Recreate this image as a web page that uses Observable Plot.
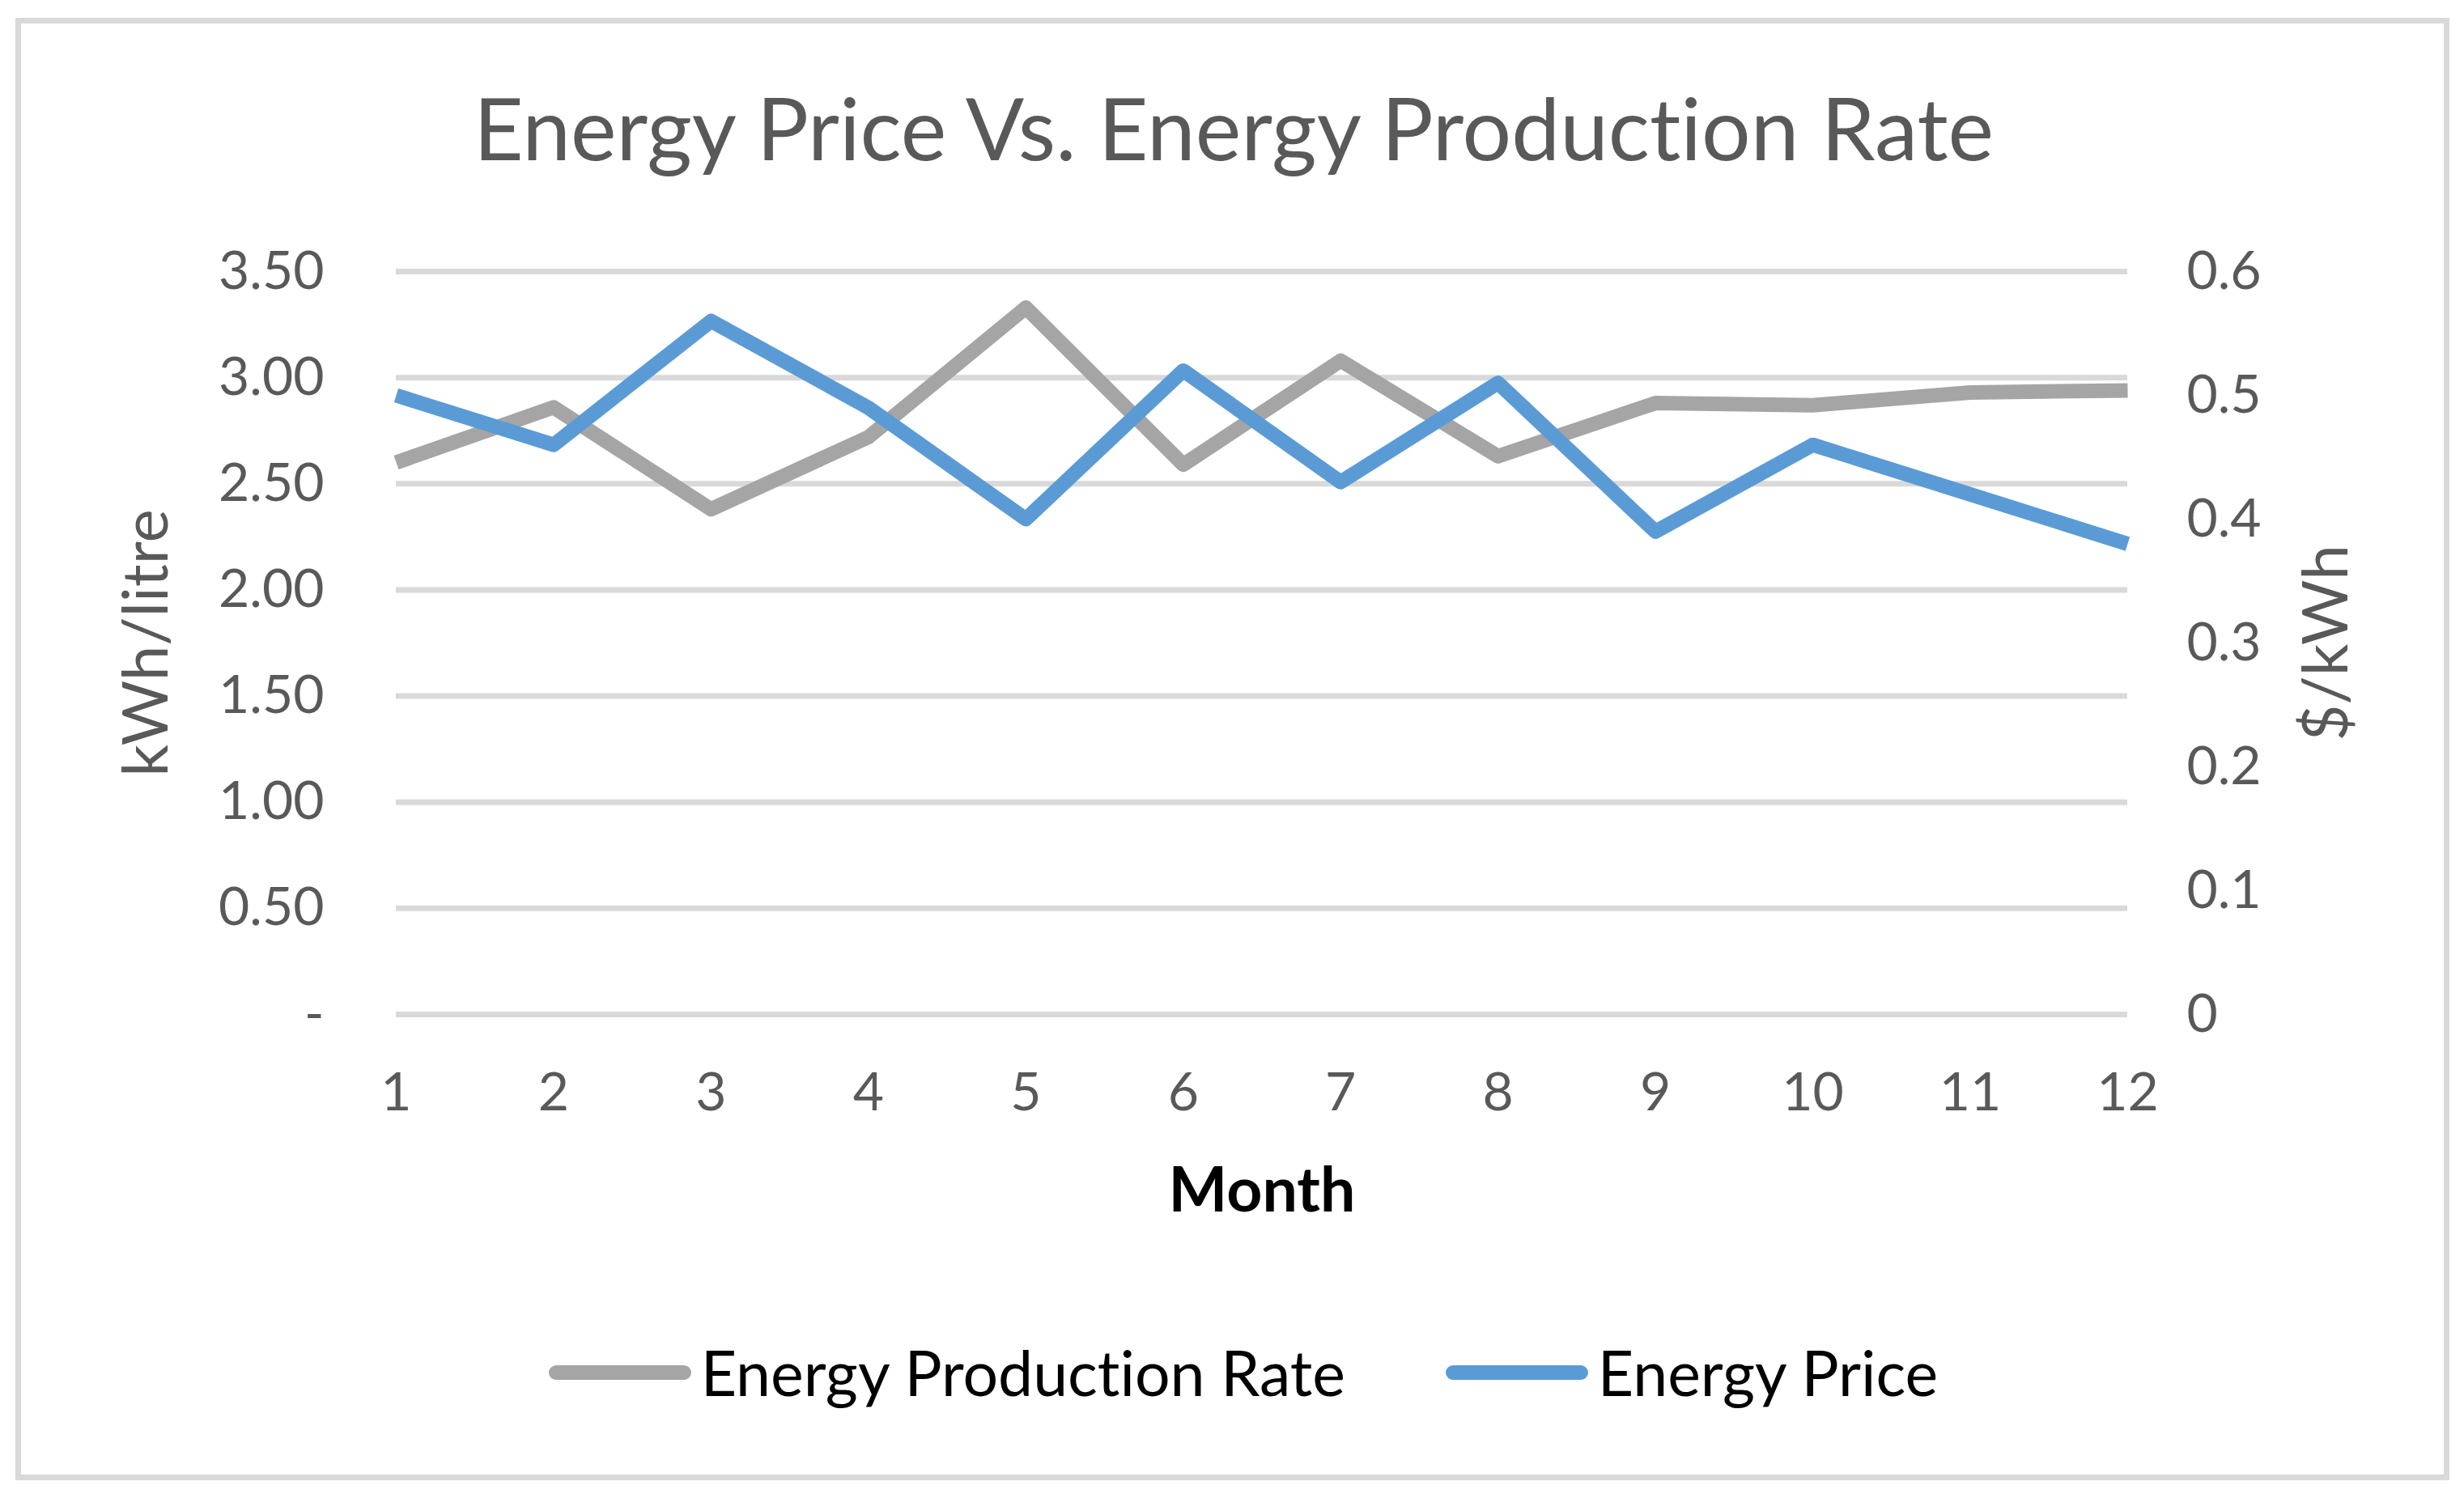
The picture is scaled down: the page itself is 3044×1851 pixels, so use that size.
<!DOCTYPE html>
<html>
<head>
<meta charset="utf-8">
<script src="https://cdn.jsdelivr.net/npm/d3@7"></script>
<script src="https://cdn.jsdelivr.net/npm/@observablehq/plot@0.6"></script>
<style>
html, body { margin: 0; padding: 0; background: #fff; }
body { width: 3044px; height: 1851px; position: relative; overflow: hidden; font-family: Lato, sans-serif; font-variant-ligatures: none; font-feature-settings: "liga" 0, "clig" 0; }
svg, svg text { font-variant-ligatures: none; font-feature-settings: "liga" 0, "clig" 0; }
#chart { position: absolute; left: 0; top: 0; }
#frame { position: absolute; left: 19px; top: 22px; width: 3007px; height: 1807px; box-sizing: border-box; border: 7px solid #d9d9d9; pointer-events: none; }
#title { position: absolute; left: 0; top: 103px; width: 3048px; text-align: center; font-size: 107px; line-height: 107px; color: #595959; white-space: nowrap; }
#legend { position: absolute; left: 12px; top: 1657px; width: 3048px; display: flex; justify-content: center; align-items: center; font-size: 77px; line-height: 77px; color: #000; white-space: nowrap; }
.item { display: flex; align-items: center; }
.item + .item { margin-left: 124px; }
.sw { width: 176px; height: 18px; border-radius: 9px; margin-right: 12px; position: relative; top: 0px; }
</style>
</head>
<body>
<div id="chart"></div>
<div id="title">Energy Price Vs. Energy Production Rate</div>
<div id="legend"></div>
<div id="frame"></div>
<script>
const months = [1, 2, 3, 4, 5, 6, 7, 8, 9, 10, 11, 12];
const productionRate = [2.60, 2.86, 2.38, 2.72, 3.33, 2.59, 3.08, 2.63, 2.88, 2.87, 2.93, 2.94];
const energyPrice = [0.50, 0.46, 0.56, 0.49, 0.40, 0.52, 0.43, 0.51, 0.39, 0.46, 0.42, 0.38];
const leftTicks = [0, 0.5, 1.0, 1.5, 2.0, 2.5, 3.0, 3.5];
const rightTicks = [0, 0.1, 0.2, 0.3, 0.4, 0.5, 0.6];
const seriesNames = ["Energy Production Rate", "Energy Price"];
const seriesColors = ["#a5a5a5", "#5b9bd5"];

const k = 3.5 / 0.6; // right axis (0..0.6) mapped onto left axis (0..3.5)
const rows = months.map((m, i) => ({month: m, rate: productionRate[i], price: energyPrice[i]}));

const chart = Plot.plot({
  width: 3044,
  height: 1560,
  marginLeft: 489,
  marginRight: 416,
  marginTop: 335,
  marginBottom: 307,
  style: {fontFamily: "Lato, sans-serif", fontSize: "66px", color: "#595959", background: "transparent"},
  x: {type: "linear", domain: [1, 12]},
  y: {domain: [0, 3.5]},
  marks: [
    Plot.gridY(leftTicks, {stroke: "#d9d9d9", strokeOpacity: 1, strokeWidth: 7}),
    Plot.axisY(leftTicks, {anchor: "left", tickSize: 0, tickPadding: 89, fontSize: 66, fill: "#595959",
      tickFormat: d => d === 0 ? "-" : d.toFixed(2), label: null}),
    Plot.axisY([], {anchor: "left", label: "kWh/litre", labelAnchor: "center", labelArrow: "none",
      labelOffset: 338, fontSize: 78, fill: "#595959"}),
    Plot.axisY(rightTicks.map(v => v * k), {anchor: "right", tickSize: 0, tickPadding: 73, fontSize: 66, fill: "#595959",
      tickFormat: d => String(+(d / k).toFixed(1)), label: null}),
    Plot.axisY([], {anchor: "right", label: "$/kWh", labelAnchor: "center", labelArrow: "none",
      labelOffset: 271, fontSize: 78, fill: "#595959"}),
    Plot.axisX(months, {anchor: "bottom", tickSize: 0, tickPadding: 72, fontSize: 66, fill: "#595959",
      tickFormat: d => String(d), label: null}),
    Plot.axisX([], {anchor: "bottom", label: "Month", labelAnchor: "center", labelArrow: "none",
      labelOffset: 243, fontSize: 77, fontWeight: "bold", fill: "#000"}),
    Plot.line(rows, {x: "month", y: "rate", stroke: seriesColors[0], strokeWidth: 18,
      strokeLinejoin: "round", strokeLinecap: "butt"}),
    Plot.line(rows, {x: "month", y: d => d.price * k, stroke: seriesColors[1], strokeWidth: 18,
      strokeLinejoin: "round", strokeLinecap: "butt"})
  ]
});
document.getElementById("chart").appendChild(chart);

const legend = document.getElementById("legend");
seriesNames.forEach((name, i) => {
  const item = document.createElement("div");
  item.className = "item";
  const sw = document.createElement("span");
  sw.className = "sw";
  sw.style.background = seriesColors[i];
  const label = document.createElement("span");
  label.textContent = name;
  item.appendChild(sw);
  item.appendChild(label);
  legend.appendChild(item);
});
</script>
</body>
</html>
